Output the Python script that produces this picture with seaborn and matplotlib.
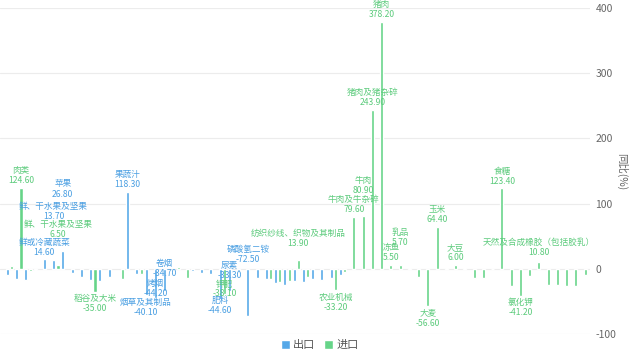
import matplotlib
matplotlib.use('Agg')
import matplotlib.pyplot as plt
import numpy as np
import pandas as pd
import seaborn as sns

nan = np.nan
# 出口 / 进口 同比(%)，按品类顺序排列
export_vals = [-9, -16, -17, -2, 14.6, 13.7, 26.8, -7, -13, -17, -18, -12, nan, 118.3, -8,
               -40.1, -44.2, -34.7, nan, nan, -3, -6, -8, -44.6, -33.3, -3, -72.5, -14, -15,
               -22, -25, -18, -20, -15, -17, -14, -9] + [nan] * 26
import_vals = [5, 124.6, -4, nan, nan, 6.5, nan, nan, nan, -35,
               nan, nan, -15, nan, -8, nan, nan, nan, 3, -14,
               nan, nan, nan, -38.1, nan, nan, nan, nan, -15, -20,
               -18, 13.9, -12, nan, nan, -33.2, -5, 79.6, 80.9, 243.9,
               378.2, 5.5, 5.7, 1, -12, -56.6, 64.4, 1, 6.0, 1,
               -14, -14, -1, 123.4, -27, -41.2, -11, 10.8, -25, -25,
               -27, -27, -9]

export_labels = {4: '鲜或冷藏蔬菜', 5: '鲜、干水果及坚果', 6: '苹果', 13: '果蔬汁',
                 15: '烟草及其制品', 16: '烤烟', 17: '卷烟', 23: '肥料', 24: '尿素',
                 26: '磷酸氢二铵'}
import_labels = {1: '肉类', 5: '鲜、干水果及坚果', 9: '稻谷及大米', 23: '钾肥',
                 31: '纺织纱线、织物及其制品', 35: '农业机械', 37: '牛肉及牛杂碎', 38: '牛肉',
                 39: '猪肉及猪杂碎', 40: '猪肉', 41: '冻鱼', 42: '乳品', 45: '大麦', 46: '玉米',
                 48: '大豆', 53: '食糖', 55: '氯化钾', 57: '天然及合成橡胶（包括胶乳）'}

# 标签避让偏移（像素，负值向上）
export_shift = {5: -36, 6: -50, 16: -21, 17: -35, 23: -5, 24: -32, 26: -74}
import_shift = {5: -23, 23: -17, 31: -9, 38: -18, 42: -15, 57: -2}

blue = '#55A8E8'
green = '#66D488'

n = len(import_vals)
df = pd.DataFrame({
    'cat': list(range(n)) * 2,
    'flow': ['出口'] * n + ['进口'] * n,
    'value': export_vals + import_vals,
}).dropna()

sns.set_theme(style='white')
plt.rcParams['font.family'] = ['Noto Sans CJK SC', 'DejaVu Sans']
plt.rcParams['axes.unicode_minus'] = False

fig = plt.figure(figsize=(6.4, 3.54), dpi=100)
ax = fig.add_axes([0, 20 / 354, 590 / 640, 326 / 354])

bar_w = 0.95
sns.barplot(data=df, x='cat', y='value', hue='flow', order=list(range(n)),
            hue_order=['出口', '进口'], palette=[blue, green], width=bar_w, gap=0.3,
            ax=ax, saturation=1)

ax.set_xlim(-1.03, 62.76)
ax.set_ylim(-100, 400)
ax.set_yticks([-100, 0, 100, 200, 300, 400])
ax.yaxis.tick_right()
ax.tick_params(axis='y', length=0, pad=4, labelsize=7.5, labelcolor='#666666')
ax.set_xticks([])
ax.set_xlabel('')
ax.set_ylabel('')
ax.grid(axis='y', color='#ececec', lw=0.8)
ax.set_axisbelow(True)
for s in ax.spines.values():
    s.set_visible(False)

off = bar_w / 4
px = 0.72


def put_label(idx, v, name, color, dx, dy):
    if v >= 0:
        ax.annotate(f'{name}\n{v:.2f}', xy=(idx + dx, v), xytext=(0, 2 - dy * px),
                    textcoords='offset points', ha='center', va='bottom', fontsize=6.2,
                    color=color, linespacing=1.15)
    else:
        ax.annotate(f'{name}\n{v:.2f}', xy=(idx + dx, v), xytext=(0, -2 - dy * px),
                    textcoords='offset points', ha='center', va='top', fontsize=6.2,
                    color=color, linespacing=1.15)


for i, name in export_labels.items():
    put_label(i, export_vals[i], name, '#4A9FE2', -off, export_shift.get(i, 0))
for i, name in import_labels.items():
    put_label(i, import_vals[i], name, '#5CCB7C', off, import_shift.get(i, 0))

fig.text(622 / 640, 1 - 172 / 354, '同比(%)', rotation=-90, ha='center', va='center',
         fontsize=7.5, color='#666666')

sns.move_legend(ax, 'center', bbox_to_anchor=(0.5, 0.025), bbox_transform=fig.transFigure,
                ncol=2, frameon=False, title=None, fontsize=8, handlelength=0.8,
                handleheight=0.8, handletextpad=0.3, columnspacing=0.8, labelcolor='#555555')

fig.savefig('out.png', dpi=100)
